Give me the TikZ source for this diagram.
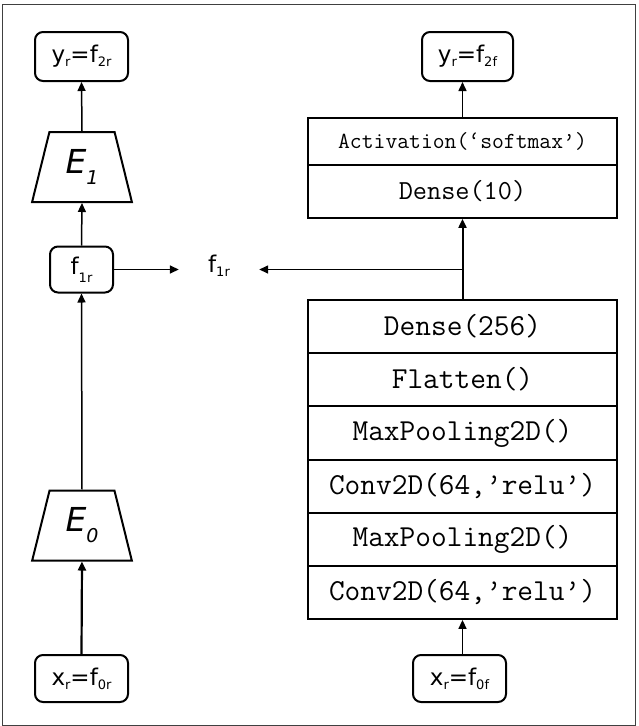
\documentclass[tikz,border=0pt]{standalone}
\usepackage{fontspec}
\setmainfont{DejaVu Sans}
\usetikzlibrary{shapes.geometric,arrows.meta}
\newcommand{\lsub}[2][4pt]{\raisebox{-#1}{\fontsize{13}{13}\selectfont #2}}
\newcommand{\esub}[1]{\raisebox{-11pt}{\fontsize{19}{19}\selectfont\itshape #1}}
\begin{document}
\begin{tikzpicture}[x=1pt,y=-1pt,
  lbl/.style={draw, line width=2pt, rounded corners=8pt, inner sep=0pt, font=\fontsize{23}{23}\selectfont},
  enc/.style={draw, line width=2pt, trapezium, trapezium left angle=76, trapezium right angle=76,
     trapezium stretches=true, minimum width=100pt, minimum height=70pt, inner sep=0pt,
     font=\fontsize{33}{33}\selectfont\itshape},
  cell/.style={draw, line width=1.8pt, minimum width=309pt, inner sep=0pt, font=\ttfamily\fontsize{30.5}{30.5}\selectfont},
  arr/.style={-{Triangle[length=9pt,width=8pt]}, line width=1.5pt},
]
\useasboundingbox (0,0) rectangle (638,726);
\draw[black!75, line width=1pt] (2,4) rectangle (635,725);

% left column
\node[lbl, minimum width=93pt, minimum height=49pt] (y2r) at (81.5,56.5) {y\lsub{r}=f\lsub{2r}};
\node[enc] (E1) at (82,167) {E\esub{1}};
\node[lbl, minimum width=63pt, minimum height=46pt] (f1r) at (81.5,269.5) {f\lsub[8pt]{1r}};
\node[enc] (E0) at (82,525.5) {E\esub{0}};
\node[lbl, minimum width=93pt, minimum height=47pt] (x0r) at (81.5,678.5) {x\lsub{r}=f\lsub{0r}};

% middle label
\node[inner sep=0pt, minimum width=80pt, font=\fontsize{23}{23}\selectfont] (mid) at (219,266) {f\lsub[4pt]{1r}};

% right column
\node[lbl, minimum width=91pt, minimum height=49pt] (y2f) at (467.5,56.5) {y\lsub{r}=f\lsub{2f}};
\node[cell, minimum height=47pt, font=\ttfamily\fontsize{23}{23}\selectfont] (act) at (462.5,141.5) {Activation(‘softmax’)};
\node[cell, minimum height=53pt, font=\ttfamily\fontsize{27.5}{27.5}\selectfont] (d10) at (462.5,191.5) {Dense(10)};

\node[cell, minimum height=53pt] (c1) at (462.5,326.5) {Dense(256)};
\node[cell, minimum height=53pt] (c2) at (462.5,379.5) {Flatten()};
\node[cell, minimum height=53pt] (c3) at (462.5,433) {MaxPooling2D()};
\node[cell, minimum height=53pt] (c4) at (462.5,486.5) {Conv2D(64,’relu’)};
\node[cell, minimum height=53pt] (c5) at (462.5,539.5) {MaxPooling2D()};
\node[cell, minimum height=53pt] (c6) at (462.5,592.5) {Conv2D(64,’relu’)};
\node[lbl, minimum width=93pt, minimum height=47pt] (x0f) at (459.5,678.5) {x\lsub{r}=f\lsub{0f}};

% connectors left
\draw[arr, line width=2.2pt] (x0r.north) -- (E0.south);
\draw[arr] (E0.north) -- (f1r.south);
\draw[arr] (f1r.north) -- (E1.south);
\draw[arr] (E1.north) -- (y2r.south);
\draw[arr] (f1r.east) -- (f1r.east -| mid.west);

% connectors right
\coordinate (j) at (c1.north |- f1r.east);
\draw[arr, line width=2pt] (c1.north) -- (d10.south);
\draw[arr] (j) -- (j -| mid.east);
\draw[arr] (act.north) -- (act.north |- y2f.south);
\draw[arr] (c6.south |- x0f.north) -- (c6.south);
\end{tikzpicture}
\end{document}
